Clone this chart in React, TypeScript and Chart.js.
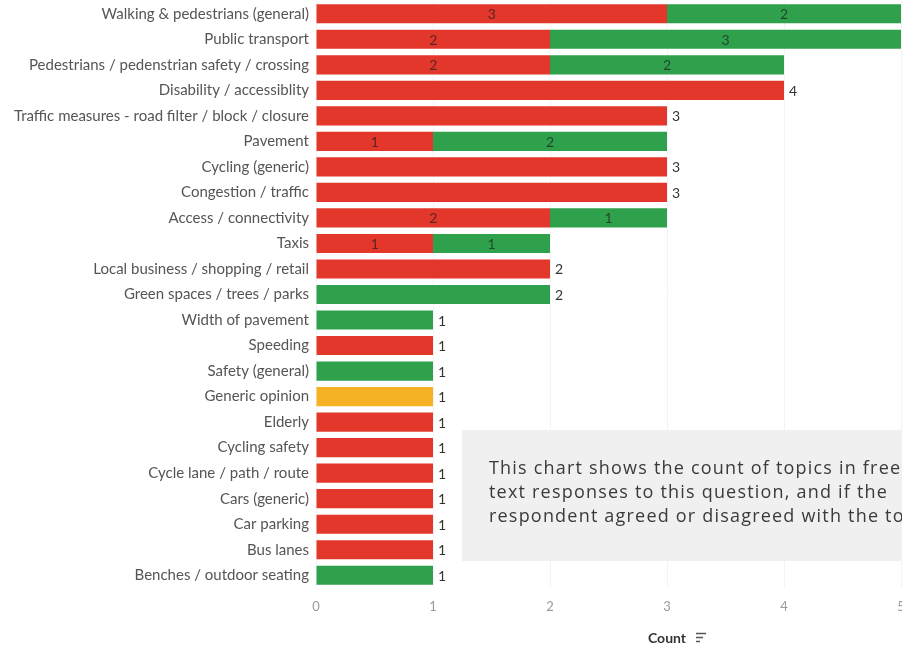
import React, { useEffect, useRef } from "react";
import { Chart, registerables } from "chart.js";

Chart.register(...registerables);

const categories = [
  "Walking & pedestrians (general)",
  "Public transport",
  "Pedestrians / pedenstrian safety / crossing",
  "Disability / accessiblity",
  "Traffic measures - road filter / block / closure",
  "Pavement",
  "Cycling (generic)",
  "Congestion / traffic",
  "Access / connectivity",
  "Taxis",
  "Local business / shopping / retail",
  "Green spaces / trees / parks",
  "Width of pavement",
  "Speeding",
  "Safety (general)",
  "Generic opinion",
  "Elderly",
  "Cycling safety",
  "Cycle lane / path / route",
  "Cars (generic)",
  "Car parking",
  "Bus lanes",
  "Benches / outdoor seating",
];

const disagreed = [3, 2, 2, 4, 3, 1, 3, 3, 2, 1, 2, 0, 0, 1, 0, 0, 1, 1, 1, 1, 1, 1, 0];
const agreed = [2, 3, 2, 0, 0, 2, 0, 0, 1, 1, 0, 2, 1, 0, 1, 0, 0, 0, 0, 0, 0, 0, 1];
const neutral = [0, 0, 0, 0, 0, 0, 0, 0, 0, 0, 0, 0, 0, 0, 0, 1, 0, 0, 0, 0, 0, 0, 0];

const xMin = 0;
const xMax = 6;
const xStep = 1;
const axisTitle = "Count";
const noteLines = [
  "This chart shows the count of topics in free",
  "text responses to this question, and if the",
  "respondent agreed or disagreed with the topic.",
];

const RED = "#E3372B";
const GREEN = "#2FA14D";
const ORANGE = "#F5B225";
const FONT = "Lato, 'Noto Sans', sans-serif";

const labelPlugin = {
  id: "barLabels",
  afterDatasetsDraw(chart: any) {
    const ctx = chart.ctx;
    const xs = chart.scales.x;
    ctx.save();
    ctx.font = `14px ${FONT}`;
    ctx.textBaseline = "middle";
    categories.forEach((_, i) => {
      const segs: { v: number; el: any }[] = [];
      chart.data.datasets.forEach((ds: any, di: number) => {
        const v = ds.data[i];
        if (v > 0) segs.push({ v, el: chart.getDatasetMeta(di).data[i] });
      });
      if (segs.length === 1) {
        const total = segs[0].v;
        const el = segs[0].el;
        ctx.fillStyle = "#333333";
        ctx.textAlign = "left";
        ctx.fillText(String(total), xs.getPixelForValue(total) + 5, el.y + 1);
      } else {
        segs.forEach((s) => {
          const el = s.el;
          ctx.fillStyle = "rgba(30,30,30,0.7)";
          ctx.textAlign = "center";
          ctx.fillText(String(s.v), (el.base + el.x) / 2, el.y + 1);
        });
      }
    });
    ctx.restore();
  },
  afterDraw(chart: any) {
    const ctx = chart.ctx;
    const area = chart.chartArea;
    ctx.save();
    // note box
    ctx.fillStyle = "#F0F0F0";
    ctx.fillRect(462, 430, 600, 131);
    ctx.fillStyle = "#3A3A3A";
    ctx.font = `18px 'Open Sans', sans-serif`;
    (ctx as any).letterSpacing = "1.2px";
    ctx.textAlign = "left";
    ctx.textBaseline = "middle";
    noteLines.forEach((l, i) => ctx.fillText(l, 489, 469 + i * 24));
    (ctx as any).letterSpacing = "0px";
    // axis title with sort icon
    const cx = (area.left + area.right) / 2;
    ctx.font = `bold 14px ${FONT}`;
    ctx.fillStyle = "#333333";
    ctx.textAlign = "center";
    ctx.fillText(axisTitle, cx, 638);
    const w = ctx.measureText(axisTitle).width;
    const ix = cx + w / 2 + 10;
    ctx.strokeStyle = "#555555";
    ctx.lineWidth = 1.5;
    ctx.beginPath();
    ctx.moveTo(ix, 633.5); ctx.lineTo(ix + 10, 633.5);
    ctx.moveTo(ix, 637.5); ctx.lineTo(ix + 7, 637.5);
    ctx.moveTo(ix, 641.5); ctx.lineTo(ix + 4, 641.5);
    ctx.stroke();
    ctx.restore();
  },
};

export default function App() {
  const ref = useRef<HTMLCanvasElement>(null);
  useEffect(() => {
    document.body.style.margin = "0";
    const chart = new Chart(ref.current!, {
      type: "bar",
      data: {
        labels: categories,
        datasets: [
          { label: "Disagreed", data: disagreed, backgroundColor: RED },
          { label: "Agreed", data: agreed, backgroundColor: GREEN },
          { label: "Neutral", data: neutral, backgroundColor: ORANGE },
        ],
      },
      options: {
        indexAxis: "y",
        animation: false,
        responsive: false,
        devicePixelRatio: 1,
        layout: { padding: { top: 1, right: 2, left: 0, bottom: 0 } },
        datasets: { bar: { barPercentage: 0.75, categoryPercentage: 1 } },
        plugins: { legend: { display: false }, tooltip: { enabled: false } },
        scales: {
          x: {
            stacked: true,
            min: xMin,
            max: xMax,
            ticks: { stepSize: xStep, color: "#9A9A9A", font: { size: 13, family: FONT }, padding: 11 },
            grid: { color: "rgba(0,0,0,0.045)", drawTicks: false },
            border: { display: false },
            afterFit(scale: any) {
              scale.height = 59;
              scale.paddingLeft = 0;
              scale.paddingRight = 0;
            },
          },
          y: {
            stacked: true,
            ticks: { color: "#555555", font: { size: 15, family: FONT }, padding: 7, autoSkip: false },
            grid: { display: false, drawTicks: false },
            border: { display: false },
            afterFit(scale: any) {
              scale.width = 316;
              scale.paddingTop = 0;
              scale.paddingBottom = 0;
            },
          },
        },
      },
      plugins: [labelPlugin],
    } as any);
    return () => chart.destroy();
  }, []);
  return (
    <div style={{ position: "absolute", left: 0, top: 0, width: 902, height: 647, overflow: "hidden", background: "#fff" }}>
      <canvas ref={ref} width={1020} height={647} />
    </div>
  );
}
